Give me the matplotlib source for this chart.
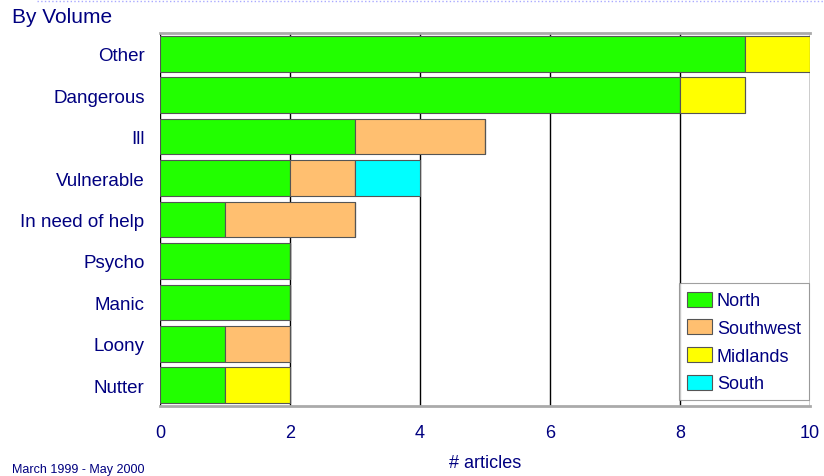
import matplotlib
matplotlib.use("Agg")
import matplotlib.pyplot as plt
import numpy as np

# --- data ---
categories = ["Other", "Dangerous", "Ill", "Vulnerable", "In need of help",
              "Psycho", "Manic", "Loony", "Nutter"]
north     = [9, 8, 3, 2, 1, 2, 2, 1, 1]
southwest = [0, 0, 2, 1, 2, 0, 0, 1, 0]
midlands  = [1, 1, 0, 0, 0, 0, 0, 0, 1]
south     = [0, 0, 0, 1, 0, 0, 0, 0, 0]
regions = ["North", "Southwest", "Midlands", "South"]
colors = ["#22ff00", "#ffbf70", "#ffff00", "#00ffff"]
xticks = [0, 2, 4, 6, 8, 10]

navy = "#000080"
plt.rcParams['font.family'] = ['Liberation Sans', 'DejaVu Sans']

fig = plt.figure(figsize=(8.24, 4.77), dpi=100)
ax = fig.add_axes([0.194, 0.1468, 0.789, 0.782])

y = np.arange(len(categories))
left = np.zeros(len(categories))
for name, vals, c in zip(regions, [north, southwest, midlands, south], colors):
    vals = np.array(vals, dtype=float)
    ax.barh(y, vals, left=left, height=0.86, color=c, edgecolor="#555555",
            linewidth=0.8, label=name, zorder=3)
    left += vals

ax.set_ylim(len(categories) - 0.5, -0.5)
ax.set_xlim(0, 10)
ax.set_yticks(y)
ax.set_yticklabels(categories, color=navy, fontsize=13.5)
ax.set_xticks(xticks)
ax.set_xticklabels([str(t) for t in xticks], color=navy, fontsize=13)
ax.tick_params(axis='x', length=0, pad=13)
ax.tick_params(axis='y', length=0, pad=11)
ax.xaxis.grid(True, color="black", linewidth=1.0, zorder=1)

for s in ["left", "right"]:
    ax.spines[s].set_visible(False)
for s in ["top", "bottom"]:
    ax.spines[s].set_color("#aaaaaa")
    ax.spines[s].set_linewidth(2)

ax.set_xlabel("# articles", color=navy, fontsize=13, labelpad=9)

leg = ax.legend(loc="lower right", bbox_to_anchor=(0.9985, 0.015), fontsize=13,
                frameon=True, fancybox=False, borderpad=0.45, labelspacing=0.55,
                handlelength=1.4, handleheight=0.9, handletextpad=0.25,
                borderaxespad=0)
leg.get_frame().set_edgecolor("#888888")
leg.get_frame().set_linewidth(0.8)
for t in leg.get_texts():
    t.set_color(navy)

fig.text(0.015, 0.963, "By Volume", color=navy, fontsize=15, va="center")
fig.text(0.015, 0.003, "March 1999 - May 2000", color=navy, fontsize=9, va="bottom")
fig.add_artist(plt.Line2D([0.045, 1.0], [0.996, 0.996], color="#aaaaff",
                          linewidth=1, linestyle=":"))

fig.savefig("out.png", dpi=100)
